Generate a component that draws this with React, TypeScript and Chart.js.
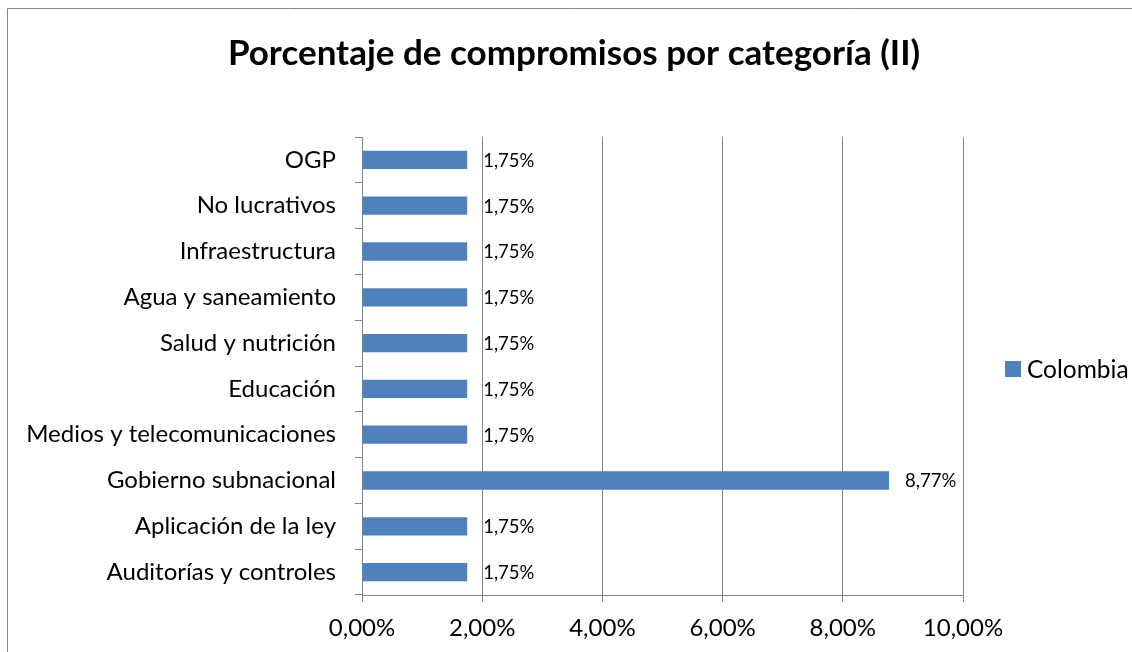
import React, { useEffect, useRef } from "react";
import { Chart, registerables } from "chart.js";

Chart.register(...registerables);

const chartTitle = "Porcentaje de compromisos por categoría (II)";
const categories = [
  "OGP",
  "No lucrativos",
  "Infraestructura",
  "Agua y saneamiento",
  "Salud y nutrición",
  "Educación",
  "Medios y telecomunicaciones",
  "Gobierno subnacional",
  "Aplicación de la ley",
  "Auditorías y controles",
];
const seriesName = "Colombia";
const colombiaValues = [1.75, 1.75, 1.75, 1.75, 1.75, 1.75, 1.75, 8.77, 1.75, 1.75];
const xMin = 0;
const xMax = 10;
const xStep = 2;

const FONT = "Lato, 'Open Sans', sans-serif";
const GRID = "#868686";
const BAR = "#4F81BD";

const fmt = (v: number, d: number) => v.toFixed(d).replace(".", ",") + "%";

const decorPlugin = {
  id: "decor",
  beforeDraw(chart: any) {
    const ctx = chart.ctx;
    ctx.save();
    ctx.strokeStyle = GRID;
    ctx.lineWidth = 1;
    ctx.beginPath();
    ctx.moveTo(7.5, chart.height);
    ctx.lineTo(7.5, 8.5);
    ctx.lineTo(chart.width, 8.5);
    ctx.stroke();
    // title
    ctx.fillStyle = "#000";
    ctx.font = `bold 35px ${FONT}`;
    ctx.textAlign = "center";
    ctx.textBaseline = "alphabetic";
    ctx.fillText(chartTitle, (chart.width + 16) / 2, 65);
    ctx.restore();
  },
  afterDatasetsDraw(chart: any) {
    const ctx = chart.ctx;
    ctx.save();
    ctx.font = `18.5px ${FONT}`;
    ctx.fillStyle = "#000";
    ctx.textAlign = "left";
    ctx.textBaseline = "middle";
    const meta = chart.getDatasetMeta(0);
    const data = chart.data.datasets[0].data as number[];
    meta.data.forEach((el: any, i: number) => {
      ctx.fillText(fmt(data[i], 2), el.x + 16, el.y + 1);
    });
    // legend
    const ca = chart.chartArea;
    const ds = chart.data.datasets[0];
    const ly = (ca.top + ca.bottom) / 2 + 3;
    ctx.fillStyle = ds.backgroundColor;
    ctx.fillRect(ca.right + 42, ly - 8, 16, 16);
    ctx.fillStyle = "#000";
    ctx.font = `24.5px ${FONT}`;
    ctx.fillText(ds.label, ca.right + 64, ly + 1);
    ctx.restore();
  },
};

export default function App() {
  const ref = useRef<HTMLCanvasElement>(null);
  useEffect(() => {
    if (!ref.current) return;
    const chart = new Chart(ref.current, {
      type: "bar",
      data: {
        labels: categories,
        datasets: [
          {
            label: seriesName,
            data: colombiaValues,
            backgroundColor: BAR,
            barPercentage: 0.4,
            categoryPercentage: 1,
          },
        ],
      },
      options: {
        indexAxis: "y",
        responsive: false,
        animation: false,
        layout: { padding: { left: 16, right: 169, top: 137, bottom: 0 } },
        plugins: {
          legend: { display: false },
          tooltip: { enabled: false },
          title: { display: false },
        },
        scales: {
          x: {
            min: xMin,
            max: xMax,
            ticks: {
              stepSize: xStep,
              color: "#000",
              font: { family: FONT, size: 24 },
              padding: 12,
              callback: (v: any) => fmt(Number(v), 2),
            },
            grid: { color: GRID, tickLength: 7, drawTicks: true },
            border: { color: GRID },
            afterFit: (s: any) => {
              s.height = 57;
            },
          },
          y: {
            offset: true,
            ticks: {
              color: "#000",
              font: { family: FONT, size: 24 },
              padding: 19,
            },
            grid: {
              offset: true,
              drawOnChartArea: false,
              drawTicks: true,
              tickLength: 7,
              color: GRID,
            },
            border: { color: GRID },
            afterFit: (s: any) => {
              s.width = 346;
            },
          },
        },
      },
      plugins: [decorPlugin],
    });
    return () => chart.destroy();
  }, []);
  return (
    <div style={{ position: "absolute", left: 0, top: 0, width: 1132, height: 652, background: "#fff" }}>
      <canvas ref={ref} width={1132} height={652} style={{ display: "block" }} />
    </div>
  );
}
